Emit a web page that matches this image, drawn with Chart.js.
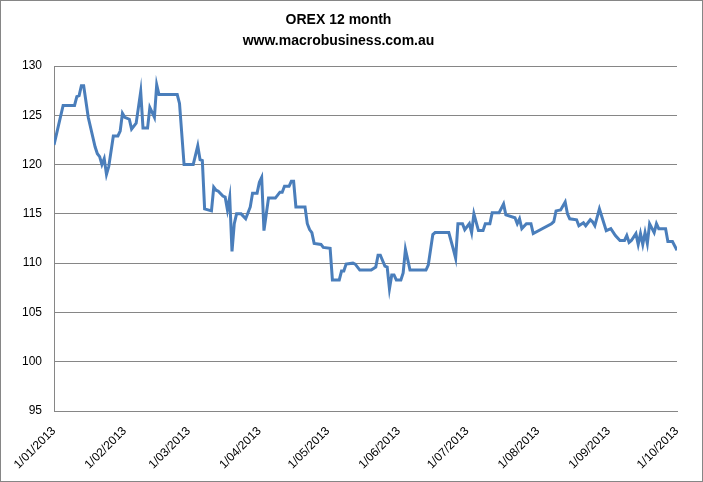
<!DOCTYPE html>
<html>
<head>
<meta charset="utf-8">
<script src="https://cdn.jsdelivr.net/npm/chart.js@4"></script>
<style>
  html, body { margin: 0; padding: 0; background: #fff; }
  #wrap { width: 703px; height: 482px; position: relative; }
</style>
</head>
<body>
<div id="wrap"><canvas id="orexChart" width="703" height="482"></canvas></div>
<script>
// days since 1 Jan 2013
const days = [
  0, 2, 4, 9, 10, 11, 12, 13, 15, 18, 19, 20, 21, 22, 23, 24, 26, 28, 29, 30,
  31, 33, 34, 36, 37, 38, 39, 41, 42, 44, 45, 46, 54, 55, 57, 61, 63, 64, 65, 66,
  69, 70, 71, 72, 74, 75, 76, 77, 78, 79, 80, 82, 84, 86, 87, 89, 90, 91, 92, 94,
  97, 99, 100, 101, 103, 104, 105, 106, 110, 111, 112, 113, 114, 117, 118, 121, 122, 125, 126, 127,
  128, 131, 132, 134, 139, 141, 142, 143, 145, 146, 147, 148, 149, 150, 152, 153, 154, 156, 163, 164,
  166, 167, 173, 175, 176, 177, 179, 180, 182, 183, 184, 186, 188, 189, 191, 192, 195, 197, 198, 202,
  203, 204, 205, 207, 209, 210, 218, 219, 220, 222, 224, 225, 226, 229, 230, 232, 233, 235, 236, 237,
  239, 242, 244, 246, 248, 250, 251, 252, 253, 255, 256, 257, 258, 259, 260, 261, 263, 264, 265, 268,
  269, 271, 273
];
const orex = [
  122.0, 124.0, 126.0, 126.0, 126.9, 127.0, 128.0, 128.0, 124.8, 121.8, 121.1, 120.8, 120.0, 120.6, 119.0, 119.8, 122.9, 122.9, 123.4, 125.2,
  124.8, 124.6, 123.6, 124.2, 125.8, 127.4, 123.7, 123.7, 125.8, 124.8, 128.1, 127.1, 127.1, 126.2, 120.0, 120.0, 121.9, 120.5, 120.4, 115.5,
  115.3, 117.7, 117.4, 117.3, 116.8, 116.7, 115.4, 116.7, 111.2, 114.0, 115.0, 115.0, 114.5, 115.7, 117.1, 117.1, 118.2, 118.7, 113.3, 116.6,
  116.6, 117.2, 117.2, 117.8, 117.8, 118.3, 118.3, 115.7, 115.7, 114.0, 113.4, 113.1, 112.0, 111.9, 111.6, 111.5, 108.3, 108.3, 109.2, 109.2,
  109.9, 110.0, 109.9, 109.3, 109.3, 109.6, 110.8, 110.8, 109.7, 109.6, 107.4, 108.8, 108.8, 108.3, 108.3, 109.0, 111.4, 109.3, 109.3, 109.8,
  112.9, 113.1, 113.1, 111.4, 110.5, 114.0, 114.0, 113.4, 114.0, 113.1, 115.0, 113.3, 113.3, 114.0, 114.0, 115.1, 115.1, 116.0, 114.9, 114.6,
  114.0, 114.5, 113.5, 114.0, 114.0, 113.0, 114.0, 114.2, 115.3, 115.4, 116.2, 115.0, 114.5, 114.4, 113.8, 114.1, 113.8, 114.4, 114.2, 113.8,
  115.5, 113.3, 113.5, 112.8, 112.3, 112.3, 112.8, 112.1, 112.3, 113.0, 111.9, 113.0, 111.9, 113.1, 112.0, 114.0, 113.1, 114.0, 113.5, 113.5,
  112.2, 112.2, 111.3
];
const monthDays = [0, 31, 59, 90, 120, 151, 181, 212, 243, 273];
const monthLabels = ['1/01/2013', '1/02/2013', '1/03/2013', '1/04/2013', '1/05/2013',
  '1/06/2013', '1/07/2013', '1/08/2013', '1/09/2013', '1/10/2013'];

Chart.defaults.font.family = '"Liberation Sans", Arial, sans-serif';
Chart.defaults.color = '#000';

const frame = {
  id: 'frame',
  beforeDraw(chart) {
    const { ctx, width, height } = chart;
    ctx.save();
    ctx.fillStyle = '#fff';
    ctx.fillRect(0, 0, width, height);
    ctx.strokeStyle = '#868686';
    ctx.lineWidth = 1;
    ctx.strokeRect(0.5, 0.5, width - 1, height - 1);
    ctx.restore();
  }
};

new Chart(document.getElementById('orexChart').getContext('2d'), {
  type: 'line',
  data: {
    datasets: [{
      label: 'OREX',
      data: days.map((d, i) => ({ x: d, y: orex[i] })),
      borderColor: '#4a7ebb',
      borderWidth: 3,
      pointRadius: 0,
      tension: 0,
      fill: false,
    }],
  },
  options: {
    responsive: false,
    animation: false,
    layout: { padding: { left: 0, right: 26, top: 0, bottom: 0 } },
    plugins: {
      legend: { display: false },
      tooltip: { enabled: false },
      title: {
        display: true,
        text: ['OREX 12 month', 'www.macrobusiness.com.au'],
        font: { size: 14, weight: 'bold', lineHeight: 1.5 },
        color: '#000',
        padding: { top: 10, bottom: 14 },
      },
    },
    scales: {
      x: {
        type: 'linear',
        min: 0,
        max: 273,
        afterBuildTicks: scale => {
          scale.ticks = monthDays.map(v => ({ value: v }));
        },
        afterFit: scale => { scale.height = 71; },
        ticks: {
          autoSkip: false,
          minRotation: 45,
          maxRotation: 45,
          padding: 13,
          font: { size: 12 },
          callback: value => monthLabels[monthDays.indexOf(value)],
        },
        grid: { display: false, drawTicks: false },
        border: { display: true, color: '#868686' },
      },
      y: {
        min: 95,
        max: 130,
        afterFit: scale => { scale.width = 54; },
        ticks: { stepSize: 5, padding: 12, font: { size: 12 } },
        grid: { color: '#868686', drawTicks: false },
        border: { display: true, color: '#868686' },
      },
    },
  },
  plugins: [frame],
});
</script>
</body>
</html>
